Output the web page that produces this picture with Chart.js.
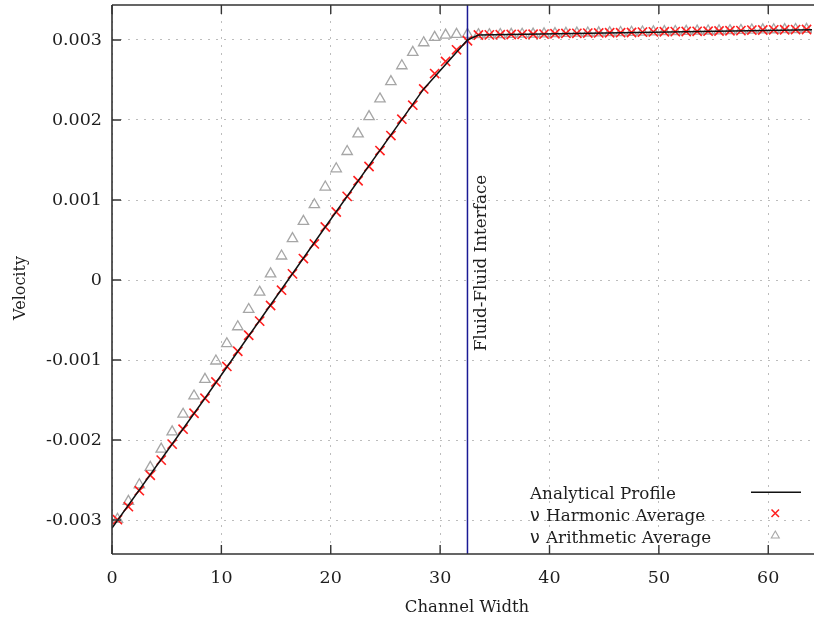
<!DOCTYPE html>
<html><head><meta charset="utf-8">
<script src="https://cdn.jsdelivr.net/npm/chart.js@4/dist/chart.umd.min.js"></script>
<style>html,body{margin:0;padding:0;background:#fff}#wrap{width:814px;height:624px}</style>
</head><body><div id="wrap"><canvas id="c" width="814" height="624"></canvas></div>
<script>
// ---- data ----
const nodeX = [0.5,1.5,2.5,3.5,4.5,5.5,6.5,7.5,8.5,9.5,10.5,11.5,12.5,13.5,14.5,15.5,16.5,17.5,18.5,19.5,20.5,21.5,22.5,23.5,24.5,25.5,26.5,27.5,28.5,29.5,30.5,31.5,32.5,33.5,34.5,35.5,36.5,37.5,38.5,39.5,40.5,41.5,42.5,43.5,44.5,45.5,46.5,47.5,48.5,49.5,50.5,51.5,52.5,53.5,54.5,55.5,56.5,57.5,58.5,59.5,60.5,61.5,62.5,63.5];
const harmonic = [-0.002995,-0.002833,-0.002633,-0.002440,-0.002251,-0.002051,-0.001864,-0.001665,-0.001478,-0.001274,-0.001080,-0.000890,-0.000690,-0.000514,-0.000318,-0.000127,0.000077,0.000268,0.000451,0.000663,0.000850,0.001045,0.001241,0.001419,0.001618,0.001805,0.002010,0.002185,0.002388,0.002580,0.002732,0.002877,0.002990,0.003062,0.003064,0.003066,0.003068,0.003070,0.003071,0.003073,0.003078,0.003082,0.003083,0.003086,0.003088,0.003090,0.003091,0.003093,0.003098,0.003101,0.003103,0.003104,0.003106,0.003108,0.003110,0.003112,0.003115,0.003117,0.003124,0.003125,0.003127,0.003128,0.003130,0.003131];
const arithmetic = [-0.002990,-0.002766,-0.002559,-0.002342,-0.002113,-0.001898,-0.001677,-0.001449,-0.001241,-0.001012,-0.000796,-0.000584,-0.000368,-0.000152,0.000077,0.000300,0.000517,0.000733,0.000941,0.001162,0.001390,0.001606,0.001827,0.002042,0.002263,0.002479,0.002678,0.002845,0.002965,0.003032,0.003061,0.003070,0.003070,0.003066,0.003066,0.003068,0.003070,0.003072,0.003073,0.003076,0.003080,0.003083,0.003085,0.003087,0.003089,0.003091,0.003093,0.003096,0.003099,0.003102,0.003104,0.003106,0.003108,0.003110,0.003112,0.003114,0.003116,0.003119,0.003124,0.003126,0.003128,0.003129,0.003131,0.003132];
const analyticX = [0, 8.5, 19.5, 28.5, 32.5, 33.5, 64];
const analyticY = [-0.003100, -0.001478, 0.000663, 0.002388, 0.003000, 0.003062, 0.003128];
const interfaceX = 32.5;
const xTicks = [0,10,20,30,40,50,60];
const yTicks = [-0.003,-0.002,-0.001,0,0.001,0.002,0.003];
const xRange = [0, 64];
const yRange = [-0.003424, 0.003437];
const labels = {
  analytic: 'Analytical Profile',
  harmonic: ['\u03BD', 'Harmonic Average'],
  arithmetic: ['\u03BD', 'Arithmetic Average'],
  xTitle: 'Channel Width',
  yTitle: 'Velocity',
  iface: 'Fluid-Fluid Interface'
};

const SERIF = '"DejaVu Serif", serif';
const SANS = '"DejaVu Sans", sans-serif';
const pts = (xs, ys) => xs.map((x, i) => ({x, y: ys[i]}));

const decor = {
  id: 'decor',
  afterDatasetsDraw(chart) {
    const ctx = chart.ctx, a = chart.chartArea;
    const xs = chart.scales.x, ys = chart.scales.y;
    ctx.save();
    ctx.strokeStyle = '#333';
    ctx.lineWidth = 1.6;
    ctx.setLineDash([]);
    ctx.beginPath();
    ctx.moveTo(a.left, a.top); ctx.lineTo(a.left, a.bottom);
    ctx.moveTo(a.left, a.bottom); ctx.lineTo(814, a.bottom);
    ctx.moveTo(a.left, a.top); ctx.lineTo(814, a.top);
    ctx.stroke();
    ctx.lineWidth = 1.4;
    ctx.beginPath();
    xTicks.forEach(v => {
      const p = xs.getPixelForValue(v);
      ctx.moveTo(p, a.bottom); ctx.lineTo(p, a.bottom - 9);
      ctx.moveTo(p, a.top); ctx.lineTo(p, a.top + 9);
    });
    yTicks.forEach(v => {
      const p = ys.getPixelForValue(v);
      ctx.moveTo(a.left, p); ctx.lineTo(a.left + 9, p);
    });
    ctx.stroke();
    ctx.fillStyle = '#1e1e1e';
    ctx.font = '16.5px ' + SERIF;
    ctx.textAlign = 'center'; ctx.textBaseline = 'middle';
    ctx.fillText(labels.xTitle, 467, 608);
    ctx.save();
    ctx.translate(21, 288); ctx.rotate(-Math.PI/2);
    ctx.font = '16px ' + SERIF;
    ctx.fillText(labels.yTitle, 0, 0);
    ctx.restore();
    ctx.save();
    const ix = xs.getPixelForValue(interfaceX);
    ctx.translate(ix + 14, 263); ctx.rotate(-Math.PI/2);
    ctx.font = '16.8px ' + SERIF;
    ctx.fillText(labels.iface, 0, 0);
    ctx.restore();
    // legend
    ctx.textAlign = 'left';
    const rows = [495, 516.7, 538.3];
    ctx.font = '16.8px ' + SERIF;
    ctx.fillText(labels.analytic, 530, rows[0]);
    [labels.harmonic, labels.arithmetic].forEach((t, i) => {
      ctx.font = '17.5px ' + SANS;
      ctx.fillText(t[0], 530, rows[i + 1]);
      ctx.font = '16.8px ' + SERIF;
      ctx.fillText(t[1], 546, rows[i + 1]);
    });
    ctx.strokeStyle = '#111'; ctx.lineWidth = 1.5;
    ctx.beginPath(); ctx.moveTo(751, 492.3); ctx.lineTo(801, 492.3); ctx.stroke();
    ctx.strokeStyle = '#ff1f1f'; ctx.lineWidth = 1.5;
    ctx.beginPath();
    ctx.moveTo(771.5, 509.5); ctx.lineTo(779, 517);
    ctx.moveTo(779, 509.5); ctx.lineTo(771.5, 517);
    ctx.stroke();
    ctx.strokeStyle = '#a8a8a8'; ctx.lineWidth = 1.1;
    ctx.beginPath();
    ctx.moveTo(775.3, 531); ctx.lineTo(779.3, 538); ctx.lineTo(771.3, 538); ctx.closePath();
    ctx.stroke();
    ctx.restore();
  }
};

new Chart(document.getElementById('c'), {
  type: 'scatter',
  data: {
    datasets: [
      { label: labels.analytic, data: pts(analyticX, analyticY), showLine: true,
        borderColor: '#111', borderWidth: 1.5, pointRadius: 0, order: 0 },
      { label: 'interface', data: [{x: interfaceX, y: yRange[0]}, {x: interfaceX, y: yRange[1]}],
        showLine: true, borderColor: '#1a1a95', borderWidth: 1.5, pointRadius: 0, order: 1 },
      { label: labels.harmonic.join(' '), data: pts(nodeX, harmonic), pointStyle: 'crossRot',
        pointRadius: 6.5, borderColor: '#ff1f1f', borderWidth: 1.6, order: 2 },
      { label: labels.arithmetic.join(' '), data: pts(nodeX, arithmetic), pointStyle: 'triangle',
        pointRadius: 6, borderColor: '#a6a6a6', backgroundColor: 'rgba(0,0,0,0)', borderWidth: 1.3, order: 3 }
    ]
  },
  options: {
    responsive: false, animation: false,
    layout: { padding: { top: 5, right: 2, left: 0, bottom: 0 }, autoPadding: false },
    plugins: { legend: { display: false }, tooltip: { enabled: false } },
    scales: {
      x: {
        type: 'linear', min: xRange[0], max: xRange[1],
        afterBuildTicks: s => { s.ticks = xTicks.map(v => ({value: v})); },
        afterFit: s => { s.height = 70; s.paddingLeft = 0; s.paddingRight = 0; },
        grid: { color: '#bdbdbd', lineWidth: 1, drawTicks: false },
        border: { display: false, dash: [2, 6] },
        ticks: { font: { family: SERIF, size: 17.5 }, color: '#1e1e1e', padding: 14, maxRotation: 0,
                 callback: v => String(v) }
      },
      y: {
        type: 'linear', min: yRange[0], max: yRange[1],
        afterBuildTicks: s => { s.ticks = yTicks.map(v => ({value: v})); },
        afterFit: s => { s.width = 112; s.paddingTop = 0; s.paddingBottom = 0; },
        grid: { color: '#bdbdbd', lineWidth: 1, drawTicks: false },
        border: { display: false, dash: [2, 6] },
        ticks: { font: { family: SERIF, size: 17.5 }, color: '#1e1e1e', padding: 10,
                 callback: v => Math.abs(v) < 1e-12 ? '0' : v.toFixed(3) }
      }
    }
  },
  plugins: [decor]
});
</script>
</body></html>
